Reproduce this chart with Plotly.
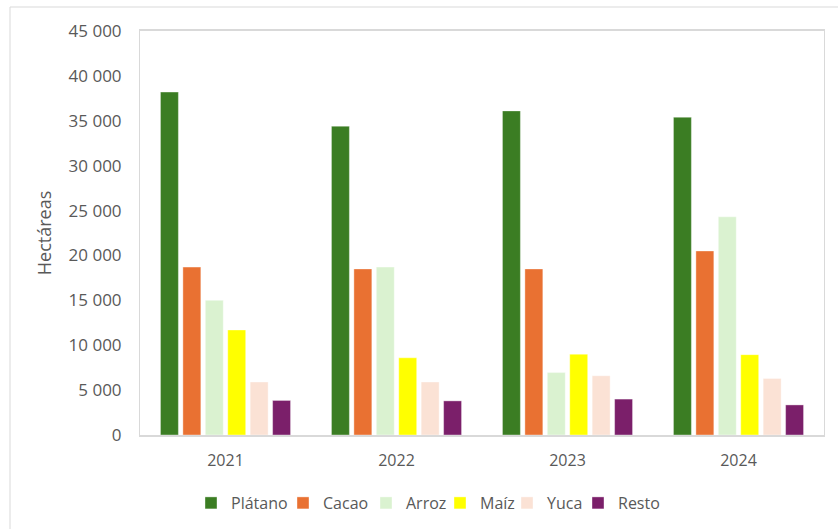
import plotly.graph_objects as go

years = ["2021", "2022", "2023", "2024"]
platano = [38200, 34400, 36100, 35400]
cacao = [18700, 18500, 18500, 20500]
arroz = [15000, 18700, 6950, 24300]
maiz = [11700, 8600, 9000, 8950]
yuca = [5900, 5900, 6600, 6300]
resto = [3850, 3800, 4000, 3350]

series = [
    ("Plátano", platano, "#3B7D23"),
    ("Cacao", cacao, "#E97132"),
    ("Arroz", arroz, "#DAF2D0"),
    ("Maíz", maiz, "#FFFF00"),
    ("Yuca", yuca, "#FBE2D5"),
    ("Resto", resto, "#7B1F6A"),
]
legend_marker_px = [209, 301, 384, 458, 525, 596]

FONT = "Open Sans"
TXT = "#595959"

W, H = 838, 529
ml, mr, mt, mb = 140, 14, 31, 94
pw, ph = W - ml - mr, H - mt - mb

def px_x(p):
    return (p - ml) / pw

def px_y(p):
    return (H - mb - p) / ph

fig = go.Figure()
legends = {}
for i, (name, vals, col) in enumerate(series):
    lname = "legend" if i == 0 else f"legend{i+1}"
    fig.add_trace(go.Bar(
        x=years, y=vals, name=name, legend=lname,
        marker=dict(color=col, line=dict(color="rgba(255,255,255,0.5)", width=0.75)),
    ))
    legends[lname] = dict(
        orientation="h", x=px_x(legend_marker_px[i] - 18), xanchor="left",
        y=px_y(503), yanchor="middle",
        font=dict(family=FONT, size=16, color=TXT),
        itemwidth=30, bgcolor="rgba(0,0,0,0)",
    )

fig.update_layout(
    width=W, height=H,
    margin=dict(l=ml, r=mr, t=mt, b=mb, autoexpand=False),
    paper_bgcolor="white", plot_bgcolor="white",
    barmode="group", bargap=0.213, bargroupgap=0.2,
    separators=", ",
    font=dict(family=FONT, color=TXT, size=16),
    showlegend=True,
    xaxis=dict(
        showgrid=False, showline=True, linecolor="#D9D9D9", linewidth=1.5,
        mirror=True, ticks="", ticklabelstandoff=10,
        tickfont=dict(family=FONT, size=16, color=TXT),
    ),
    yaxis=dict(
        range=[0, 45000], dtick=5000, tickformat=",d",
        showgrid=False, showline=True, linecolor="#D9D9D9", linewidth=1,
        mirror=True, ticks="", ticklabelstandoff=14, zeroline=False,
        tickfont=dict(family=FONT, size=17, color=TXT),
        title=dict(text="Hectáreas", font=dict(family=FONT, size=18, color=TXT), standoff=12),
    ),
    shapes=[dict(
        type="rect", xref="paper", yref="paper",
        x0=px_x(10), x1=px_x(860), y0=px_y(560), y1=px_y(7),
        line=dict(color="#D9D9D9", width=1), fillcolor="rgba(0,0,0,0)", layer="below",
    )],
)
fig.update_layout(**legends)

fig.write_html("out.html", config={"displayModeBar": False},
               post_script="document.body.style.margin='0px';")
